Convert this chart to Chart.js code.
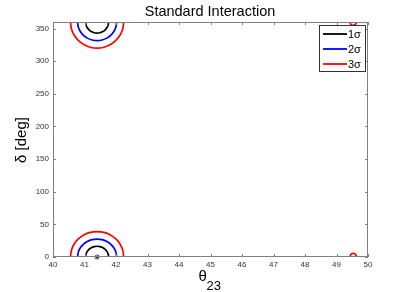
<!DOCTYPE html>
<html>
<head>
<meta charset="utf-8">
<script src="https://cdn.jsdelivr.net/npm/chart.js@4.4.1/dist/chart.umd.min.js"></script>
<style>
html,body{margin:0;padding:0;background:#fff;}
#wrap{width:407px;height:292px;}
</style>
</head>
<body>
<div id="wrap"><canvas id="c" width="407" height="292"></canvas></div>
<script>
// Tick values
const xTicks = [40,41,42,43,44,45,46,47,48,49,50];
const yTicks = [0,50,100,150,200,250,300,350];
const legendLabels = ['1\u03c3','2\u03c3','3\u03c3'];
const legendColors = ['#000000','#0000ff','#ff0000'];

// Contours, [theta23, delta]
const sigma1Bottom = [[41.765,0],[41.753,4.3],[41.716,8.25],[41.658,11.7],[41.583,14.3],[41.494,15.9],[41.40,16.5],[41.306,15.9],[41.217,14.3],[41.142,11.7],[41.084,8.25],[41.047,4.3],[41.035,0]];
const sigma1Top = [[41.765,360],[41.753,355.6],[41.716,351.5],[41.658,348],[41.583,345.3],[41.494,343.6],[41.40,343],[41.306,343.6],[41.217,345.3],[41.142,348],[41.084,351.5],[41.047,355.6],[41.035,360]];
const sigma2Bottom = [[42.02,0],[41.999,7.1],[41.937,13.75],[41.838,19.4],[41.71,23.8],[41.56,26.6],[41.40,27.5],[41.24,26.6],[41.09,23.8],[40.962,19.4],[40.863,13.75],[40.801,7.1],[40.78,0]];
const sigma2Top = [[42.02,360],[41.999,352.6],[41.937,345.75],[41.838,339.8],[41.71,335.3],[41.56,332.5],[41.40,331.5],[41.24,332.5],[41.09,335.3],[40.962,339.8],[40.863,345.75],[40.801,352.6],[40.78,360]];
const sigma3Bottom = [[42.245,0],[42.216,10.1],[42.132,19.5],[41.997,27.6],[41.823,33.8],[41.619,37.7],[41.40,39],[41.181,37.7],[40.978,33.8],[40.803,27.6],[40.668,19.5],[40.584,10.1],[40.555,0]];
const sigma3Top = [[42.245,360],[42.216,349.6],[42.132,340],[41.997,331.7],[41.823,325.4],[41.619,321.4],[41.40,320],[41.181,321.4],[40.978,325.4],[40.803,331.7],[40.668,340],[40.584,349.6],[40.555,360]];
const sigma3RightBottom = [[49.43,0],[49.45,3.5],[49.53,5.7],[49.6,4],[49.64,0]];
const sigma3RightTop = [[49.43,360],[49.46,356],[49.53,355],[49.6,356.5],[49.64,360]];
const bestFit = [[41.4,0]];

const toPts = a => a.map(p => ({x:p[0], y:p[1]}));
function lineDs(arr, color, label){
  return {label:label, data:toPts(arr), showLine:true, borderColor:color, backgroundColor:color,
          borderWidth:1.7, pointRadius:0, tension:0.35, fill:false};
}

const datasets = [
  lineDs(sigma1Bottom, legendColors[0], legendLabels[0]),
  lineDs(sigma1Top, legendColors[0], legendLabels[0]),
  lineDs(sigma2Bottom, legendColors[1], legendLabels[1]),
  lineDs(sigma2Top, legendColors[1], legendLabels[1]),
  lineDs(sigma3Bottom, legendColors[2], legendLabels[2]),
  lineDs(sigma3Top, legendColors[2], legendLabels[2]),
  lineDs(sigma3RightBottom, legendColors[2], legendLabels[2]),
  lineDs(sigma3RightTop, legendColors[2], legendLabels[2]),
  {label:'best', data:toPts(bestFit), showLine:false, pointStyle:'star', pointRadius:2.6,
   borderColor:'#222', backgroundColor:'#222', borderWidth:1, clip:false}
];

const AXIS = '#808080';
const FONT = "'Liberation Sans', Arial, Helvetica, sans-serif";

const framePlugin = {
  id:'frame',
  afterDatasetsDraw(chart){
    const {ctx, chartArea:a, scales:{x, y}} = chart;
    ctx.save();
    ctx.strokeStyle = AXIS;
    ctx.lineWidth = 1;
    ctx.strokeRect(a.left+0.5, a.top+0.5, a.right-a.left-1, a.bottom-a.top-1);
    const L = 3;
    ctx.beginPath();
    xTicks.forEach(v => {
      const px = Math.round(x.getPixelForValue(v))+0.5;
      ctx.moveTo(px, a.bottom); ctx.lineTo(px, a.bottom-L);
      ctx.moveTo(px, a.top); ctx.lineTo(px, a.top+L);
    });
    yTicks.forEach(v => {
      const py = Math.round(y.getPixelForValue(v))+0.5;
      ctx.moveTo(a.left, py); ctx.lineTo(a.left+L, py);
      ctx.moveTo(a.right, py); ctx.lineTo(a.right-L, py);
    });
    ctx.stroke();

    // Legend box
    const bx = 319.5, by = 25.5, bw = 46, bh = 46;
    ctx.fillStyle = '#fff';
    ctx.fillRect(bx, by, bw, bh);
    ctx.strokeStyle = '#333';
    ctx.strokeRect(bx, by, bw, bh);
    ctx.font = '11px ' + FONT;
    ctx.textBaseline = 'middle';
    ctx.textAlign = 'left';
    legendLabels.forEach((lab, i) => {
      const yy = 34 + i*15;
      ctx.strokeStyle = legendColors[i];
      ctx.lineWidth = 1.8;
      ctx.beginPath(); ctx.moveTo(323, yy); ctx.lineTo(347, yy); ctx.stroke();
      ctx.fillStyle = '#000';
      ctx.fillText(lab, 348, yy+0.5);
    });

    // Title
    ctx.fillStyle = '#000';
    ctx.textAlign = 'center';
    ctx.textBaseline = 'alphabetic';
    ctx.font = '14.5px ' + FONT;
    ctx.fillText('Standard Interaction', 210, 16);

    // X label theta_23
    ctx.textAlign = 'left';
    ctx.font = '15px ' + FONT;
    ctx.fillText('\u03b8', 198.5, 281);
    ctx.font = '13px ' + FONT;
    ctx.fillText('23', 206.5, 290);

    // Y label
    ctx.save();
    ctx.translate(26, 140);
    ctx.rotate(-Math.PI/2);
    ctx.textAlign = 'center';
    ctx.textBaseline = 'alphabetic';
    ctx.font = '15px ' + FONT;
    ctx.fillText('\u03b4 [deg]', 0, 0);
    ctx.restore();
    ctx.restore();
  }
};

new Chart(document.getElementById('c'), {
  type:'scatter',
  data:{datasets},
  options:{
    responsive:false,
    animation:false,
    devicePixelRatio:1,
    layout:{padding:{left:0, right:39, top:22, bottom:0}},
    plugins:{legend:{display:false}, title:{display:false}, tooltip:{enabled:false}},
    scales:{
      x:{type:'linear', min:40, max:50,
         afterBuildTicks: s => { s.ticks = xTicks.map(v => ({value:v})); },
         afterFit: s => { s.height = 35; },
         grid:{drawOnChartArea:false, drawTicks:false},
         border:{display:false},
         ticks:{padding:3, color:'#333', font:{family:FONT, size:8}, maxRotation:0, autoSkip:false}},
      y:{type:'linear', min:0, max:360,
         afterBuildTicks: s => { s.ticks = yTicks.map(v => ({value:v})); },
         afterFit: s => { s.width = 53; },
         grid:{drawOnChartArea:false, drawTicks:false},
         border:{display:false},
         ticks:{padding:4, color:'#333', font:{family:FONT, size:8}, autoSkip:false}}
    }
  },
  plugins:[framePlugin]
});
</script>
</body>
</html>
